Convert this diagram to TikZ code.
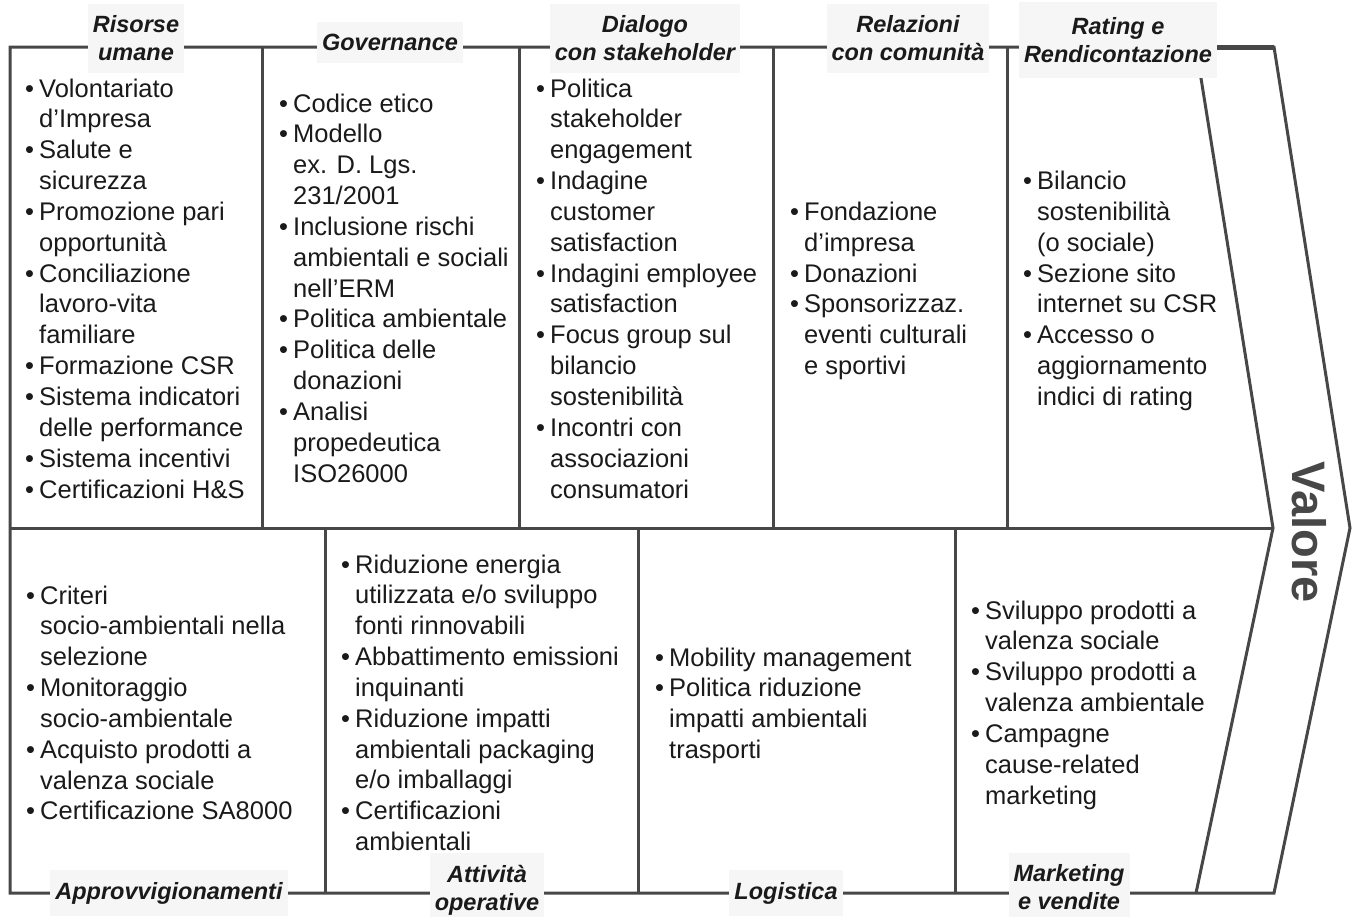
\documentclass[tikz,border=0pt]{standalone}
\usepackage{fontspec}
\setmainfont{Liberation Sans}
\definecolor{ln}{HTML}{474747}
\definecolor{tx}{HTML}{1A1A1A}
\definecolor{lbg}{HTML}{F6F6F6}
\newcommand\bl{\makebox[14pt][l]{•}}
\newcommand\ind{\hspace*{14pt}}
\newcommand\colbox[1]{\begin{tabular}[t]{@{}l@{}}#1\end{tabular}}
\begin{document}
\begin{tikzpicture}[x=1pt,y=-1pt,
  frame/.style={draw=ln,line width=3pt,line join=miter},
  txt/.style={anchor=base west,inner sep=0pt,text=tx,font=\fontsize{25.5}{30.85}\selectfont},
  lbl/.style={fill=lbg,text=tx,align=center,inner xsep=5pt,inner ysep=12pt,font=\fontsize{23.5}{28}\selectfont\bfseries\itshape},
  val/.style={text=ln,rotate=-90,font=\fontsize{47}{50}\selectfont\bfseries,inner sep=0pt}]
\useasboundingbox (0,0) rectangle (1354,916);
% frame coordinates
\coordinate (tl) at (10,47);
\coordinate (tr) at (1274,47);
\coordinate (tip) at (1350,528);
\coordinate (br) at (1274,893);
\coordinate (bl) at (10,893);
\coordinate (itop) at (1196,47);
\coordinate (itip) at (1273,528);
\coordinate (ibot) at (1196,893);
\coordinate (ml) at (10,528);
% outer frame
\draw[frame] (tl) -- (tr) -- (tip) -- (br) -- (bl) -- cycle;
\draw[draw=ln,line width=5pt] (1210,47) -- (tr);
% inner chevron
\draw[frame] (itop) -- (itip) -- (ibot);
% middle line
\draw[frame] (ml) -- (itip);
% top dividers
\foreach \x in {262,519,773,1007} \draw[frame] (\x,47) -- (\x,528);
% bottom dividers
\foreach \x in {325,638,955} \draw[frame] (\x,528) -- (\x,893);
% labels top
\node[lbl] (l1) at (136,38.5) {Risorse\\umane};
\node[lbl,anchor=base] (l2) at (390,50.5) {Governance};
\node[lbl] (l3) at (645,38.5) {Dialogo\\con stakeholder};
\node[lbl] (l4) at (908,38.5) {Relazioni\\con comunità};
\node[lbl,inner ysep=15pt] (l5) at (1118,40) {Rating e\\Rendicontazione};
% labels bottom
\node[lbl,anchor=base] (l6) at (169,899) {Approvvigionamenti};
\node[lbl] (l7) at (487,890) {Attività\\operative};
\node[lbl,anchor=base] (l8) at (786,899) {Logistica};
\node[lbl] (l9) at (1069,887.5) {Marketing\\e vendite};
% value
\node[val] (v) at (1309,532) {Valore};
% columns
\node[txt] (c1) at (25,97) {\colbox{\bl Volontariato\\\ind d’Impresa\\\bl Salute e\\\ind sicurezza\\\bl Promozione pari\\\ind opportunità\\\bl Conciliazione\\\ind lavoro-vita\\\ind familiare\\\bl Formazione CSR\\\bl Sistema indicatori\\\ind delle performance\\\bl Sistema incentivi\\\bl Certificazioni H\&S}};
\node[txt] (c2) at (279,112) {\colbox{\bl Codice etico\\\bl Modello\\\ind ex. D. Lgs.\\\ind 231/2001\\\bl Inclusione rischi\\\ind ambientali e sociali\\\ind nell’ERM\\\bl Politica ambientale\\\bl Politica delle\\\ind donazioni\\\bl Analisi\\\ind propedeutica\\\ind ISO26000}};
\node[txt] (c3) at (536,97) {\colbox{\bl Politica\\\ind stakeholder\\\ind engagement\\\bl Indagine\\\ind customer\\\ind satisfaction\\\bl Indagini employee\\\ind satisfaction\\\bl Focus group sul\\\ind bilancio\\\ind sostenibilità\\\bl Incontri con\\\ind associazioni\\\ind consumatori}};
\node[txt] (c4) at (790,220.4) {\colbox{\bl Fondazione\\\ind d’impresa\\\bl Donazioni\\\bl Sponsorizzaz.\\\ind eventi culturali\\\ind e sportivi}};
\node[txt] (c5) at (1023,189.5) {\colbox{\bl Bilancio\\\ind sostenibilità\\\ind (o sociale)\\\bl Sezione sito\\\ind internet su CSR\\\bl Accesso o\\\ind aggiornamento\\\ind indici di rating}};
\node[txt] (b1) at (26,604) {\colbox{\bl Criteri\\\ind socio-ambientali nella\\\ind selezione\\\bl Monitoraggio\\\ind socio-ambientale\\\bl Acquisto prodotti a\\\ind valenza sociale\\\bl Certificazione SA8000}};
\node[txt] (b2) at (341,573) {\colbox{\bl Riduzione energia\\\ind utilizzata e/o sviluppo\\\ind fonti rinnovabili\\\bl Abbattimento emissioni\\\ind inquinanti\\\bl Riduzione impatti\\\ind ambientali packaging\\\ind e/o imballaggi\\\bl Certificazioni\\\ind ambientali}};
\node[txt] (b3) at (655,666) {\colbox{\bl Mobility management\\\bl Politica riduzione\\\ind impatti ambientali\\\ind trasporti}};
\node[txt] (b4) at (971,619) {\colbox{\bl Sviluppo prodotti a\\\ind valenza sociale\\\bl Sviluppo prodotti a\\\ind valenza ambientale\\\bl Campagne\\\ind cause-related\\\ind marketing}};
\end{tikzpicture}
\end{document}
